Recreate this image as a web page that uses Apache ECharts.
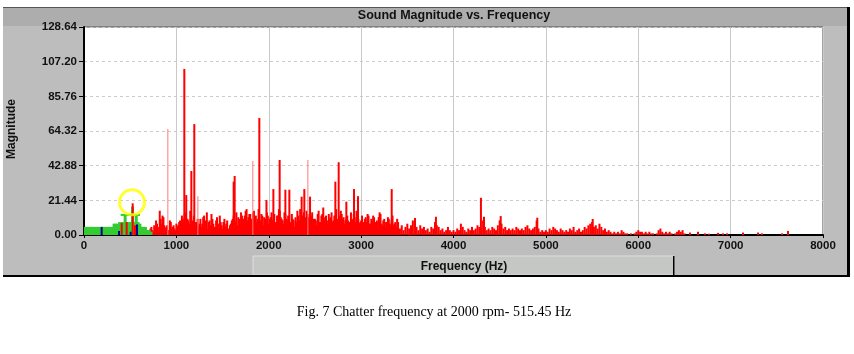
<!DOCTYPE html>
<html><head><meta charset="utf-8">
<script src="https://cdn.jsdelivr.net/npm/echarts@6/dist/echarts.min.js"></script>
<style>html,body{margin:0;padding:0;background:#fff;}#c{width:854px;height:354px;}</style>
</head><body><div id="c"></div>
<script>
// ---- tick labels ----
const yMin = 0, yMax = 128.64, yStep = 21.44;
const xMin = 0, xMax = 8000, xStep = 1000;

// ---- red noise floor: FFT bins from 660 Hz every 20 Hz ----
const noiseStartHz = 660, noiseStepHz = 20;
const noiseMag = [
  1,3,2,4,3,6,9,5,15,7,        // 660
  11,4,6,3,8,5,4,7,            // 860
  6,9,12,8,14,10,7,11,9,6,     // 1020
  8,5,10,7,12,6,4,9,13,7,      // 1220
  5,11,6,8,4,10,7,3,6,9,       // 1420
  12,8,6,10,14,9,12,16,11,13,  // 1620
  9,15,12,10,8,13,6,10,14,7,   // 1820
  11,9,13,8,12,15,10,7,13,9,   // 2020
  11,6,10,5,8,12,16,10,14,11,  // 2220
  13,9,12,7,10,6,15,8,13,9,    // 2420
  12,7,10,14,9,11,8,12,15,10,  // 2620
  7,11,9,6,10,13,8,11,7,9,     // 2820
  6,10,8,12,7,9,11,6,8,14,     // 3020
  7,9,5,8,10,6,12,7,5,8,       // 3220
  4,6,3,5,7,4,6,9,8,5,         // 3420
  3,6,4,5,3,4,2,5,4,8,         // 3620
  6,5,3,4,2,3,5,3,2,3,         // 3820
  2,4,3,7,5,3,2,4,3,5,         // 4020
  3,4,6,5,4,9,5,3,4,3,         // 4220
  5,4,3,6,9,7,4,5,3,4,         // 4420
  3,4,3,5,4,3,4,3,5,6,         // 4620
  4,3,4,5,9,4,2,3,2,3,         // 4820
  2,4,3,5,4,3,2,4,3,2,         // 5020
  3,2,4,3,5,2,3,4,2,3,         // 5220
  5,4,6,7,8,5,6,4,7,5,         // 5420
  3,4,2,3,2,1,2,1,2,1,         // 5620
  3,2,1,1,0,1,0,1,2,3,         // 5820
  2,2,1,2,1,2,1,1,0,1,         // 6020
  3,4,2,1,2,1,2,1,0,1          // 6220
];
// interleaved bins 670..3390 Hz every 20 Hz (denser part of the spectrum)
const midStartHz = 670, midStepHz = 20;
const midMag = [
  2,2,3,5,2,4,7,3,10,12,6,5,3,9,4,6,3,5,            // 670
  8,5,10,13,7,9,15,6,12,8, 10,7,5,11,9,14,8,6,10,5, // 1030
  9,7,12,6,8,5,9,4,7,10,                            // 1430
  9,14,11,7,12,10,15,9,13,10, 14,11,8,16,9,12,11,8,12,10, // 1630
  14,10,8,12,16,11,9,14,10,12, 8,13,9,11,15,9,13,12,10,15, // 2030
  11,8,14,10,9,13,8,12,17,11,                       // 2430
  9,13,11,8,12,16,10,9,13,11, 9,12,8,14,9,11,15,10,8,12,   // 2630
  8,11,13,7,10,12,8,9,11,13, 6,10,8,11,7,9,6,8,10          // 3030
];
// sparse tail [Hz, magnitude]
const tailBins = [[6420,2],[6440,3],[6460,2],[6480,3],[6500,1],[6560,1.5],[6647,2],[6723,1],[6767,0.8],
  [6864,1.3],[6917,1],[6961,1],[7134,1.5],[7297,1.5],[7340,1],[7556,1],[7621,2.5]];
// dominant peaks [Hz, magnitude]
const peaks = [[1086,102.7],[1107,24.7],[1162,39.6],[1194,68.6],[1620,33],[1631,36.5],[1898,72.4],
  [1975,21.6],[2050,28.4],[2118,46.4],[2180,28],[2223,28],[2356,23.7],[2385,28.4],[2447,23.7],
  [2721,33],[2757,45],[2840,20.6],[2923,28.4],[2966,24],[3331,28.4],[3583,10.5],[3810,11.3],
  [4297,23],[4330,11.3],[4511,11.7],[4907,10.7],[5507,9.9]];
const thinPeaks = [[913,65.5],[1238,24],[1833,45.8],[2429,46.4]];

// ---- low band (green) from 0 Hz every 20 Hz ----
const lowStartHz = 0, lowStepHz = 20;
const lowMag = [
  5,5,5,5,5,5,5,5,5,5,
  5,5,5,5,5,5,7,7,7,8,
  8,8,12,8,8,8,17.5,8,12,8,
  7,5,5,5,3,3,2
];
const lowCrossbar = [[397,12.4],[606,12.4]];
const chatterRed = [[408,7.4],[462,8],[527,19.6],[552,6]];
const blueBins = [[191,5],[379,2.5],[505,2],[574,6.5]];
const chatterMark = [[520,20.2]];

const noiseData = noiseMag.map((v,i)=>[noiseStartHz + i*noiseStepHz, v]).concat(tailBins);
const midData = midMag.map((v,i)=>[midStartHz + i*midStepHz, v]);
const lowData = lowMag.map((v,i)=>[lowStartHz + i*lowStepHz, v]);

const chart = echarts.init(document.getElementById('c'), null, {renderer:'canvas'});
const lblFont = {fontFamily:'Liberation Sans, Arial, sans-serif', fontWeight:'bold', fontSize:11.5, color:'#111'};
const barCommon = {type:'bar', barGap:'-100%', animation:false, silent:true};
chart.setOption({
  animation:false,
  grid:{left:84, right:31, top:27, bottom:119, show:true, backgroundColor:'#ffffff', borderColor:'#444', borderWidth:1},
  xAxis:{type:'value', min:xMin, max:xMax, interval:xStep,
    axisLine:{lineStyle:{color:'#000', width:2}},
    axisTick:{show:true, length:3, lineStyle:{color:'#000'}},
    axisLabel:Object.assign({margin:5, showMinLabel:true, showMaxLabel:true, formatter:v=>String(v)}, lblFont),
    splitLine:{show:true, lineStyle:{color:'#c9c9c9', width:1}}},
  yAxis:{type:'value', min:yMin, max:yMax, interval:yStep,
    axisLine:{show:true, lineStyle:{color:'#000', width:2}},
    axisTick:{show:true, length:5, lineStyle:{color:'#000'}},
    axisLabel:Object.assign({margin:7, formatter:v=>v.toFixed(2)}, lblFont),
    splitLine:{show:true, lineStyle:{color:'#d2c6d2', width:1, type:[3,3]}}},
  graphic:[
    {type:'rect', z:-10, shape:{x:3,y:7,width:844,height:269}, style:{fill:'#bcbdbc'}},
    {type:'rect', z:-9, shape:{x:3,y:7,width:844,height:19}, style:{fill:'#acadac'}},
    {type:'rect', z:-9, shape:{x:3,y:7,width:844,height:1}, style:{fill:'#555'}},
    {type:'rect', z:-9, shape:{x:253,y:256,width:421,height:19}, style:{fill:'#c5c7c5', stroke:'#dedede', lineWidth:1}},
    {type:'rect', z:-8, shape:{x:673,y:256,width:1.5,height:20}, style:{fill:'#000'}},
    {type:'rect', z:-8, shape:{x:847,y:7,width:3,height:270}, style:{fill:'#000'}},
    {type:'rect', z:-8, shape:{x:3,y:275,width:847,height:2}, style:{fill:'#000'}},
    {type:'text', z:10, x:454, y:16, style:{text:'Sound Magnitude vs. Frequency', fill:'#111', font:'bold 12.5px Liberation Sans, Arial, sans-serif', align:'center', verticalAlign:'middle'}},
    {type:'text', z:10, x:464, y:267, style:{text:'Frequency (Hz)', fill:'#111', font:'bold 12px Liberation Sans, Arial, sans-serif', align:'center', verticalAlign:'middle'}},
    {type:'text', z:10, x:12, y:129, rotation:Math.PI/2, style:{text:'Magnitude', fill:'#111', font:'bold 12px Liberation Sans, Arial, sans-serif', align:'center', verticalAlign:'middle'}},
    {type:'text', z:10, x:434, y:312, style:{text:'Fig. 7 Chatter frequency at 2000 rpm- 515.45 Hz', fill:'#000', font:'14px Liberation Serif, Times New Roman, serif', align:'center', verticalAlign:'middle'}}
  ],
  series:[
    Object.assign({name:'noise', data:noiseData, barWidth:2, itemStyle:{color:'#ff0000'}}, barCommon),
    Object.assign({name:'mid', data:midData, barWidth:2, itemStyle:{color:'#ff0000'}}, barCommon),
    Object.assign({name:'peaks', data:peaks, barWidth:2, itemStyle:{color:'#ff0000'}}, barCommon),
    Object.assign({name:'thin', data:thinPeaks, barWidth:1, itemStyle:{color:'#ff7a7a'}}, barCommon),
    Object.assign({name:'low', data:lowData, barWidth:3, itemStyle:{color:'#33cc33'}}, barCommon),
    {type:'line', data:lowCrossbar, symbol:'none', lineStyle:{color:'#33cc33', width:2}, animation:false, silent:true, z:3},
    Object.assign({name:'chatter', data:chatterRed, barWidth:2, itemStyle:{color:'#ff0000'}, z:4}, barCommon),
    Object.assign({name:'blue', data:blueBins, barWidth:2, itemStyle:{color:'#000099'}, z:5}, barCommon),
    {type:'scatter', data:chatterMark, symbol:'circle', symbolSize:25, itemStyle:{color:'rgba(0,0,0,0)', borderColor:'#ffff00', borderWidth:3}, animation:false, silent:true, z:6}
  ]
});
</script></body></html>
